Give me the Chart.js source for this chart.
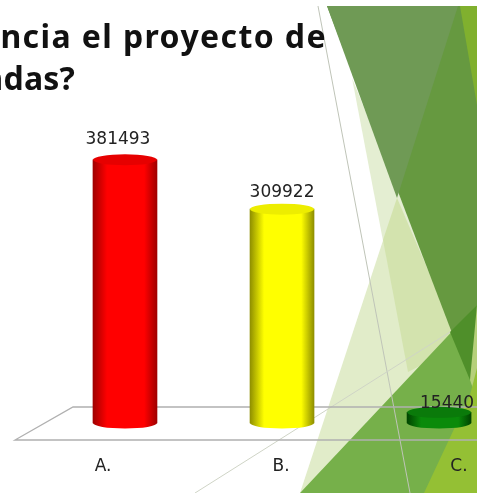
<!DOCTYPE html>
<html>
<head>
<meta charset="utf-8">
<style>
  html, body { margin: 0; padding: 0; background: #fff; overflow: hidden; }
  #wrap { position: relative; width: 477px; height: 493px; overflow: hidden; }
  #bg, #myChart { position: absolute; left: 0; top: 0; }
</style>
<script src="https://cdn.jsdelivr.net/npm/chart.js@4"></script>
</head>
<body>
<div id="wrap">
  <!-- slide background -->
  <svg id="bg" width="477" height="493">
    <polygon points="352,78 460,345 408,372" fill="#e4eed2"/>
    <polygon points="397,198 460,345 300,493" fill="#e1ecc9"/>
    <polygon points="397,198 460,345 408,372 383,240" fill="#d3e3ae"/>
    <polygon points="327,6 477,6 477,385 470,380" fill="#669940"/>
    <polygon points="327,6 458,6 397,198" fill="#6f9a55"/>
    <polygon points="460,6 477,6 477,105" fill="#80b02e"/>
    <polygon points="477,305 477,493 300,493" fill="#76b04a"/>
    <polygon points="450,332 477,305 477,370 470,380" fill="#4f8f2a"/>
    <polygon points="470,380 477,305 477,400" fill="#b5d07a"/>
    <polygon points="424,493 470,395 477,368 477,493" fill="#94c034"/>
    <line x1="318" y1="6" x2="410" y2="493" stroke="#bfc4b8" stroke-width="1"/>
    <line x1="450" y1="332" x2="195" y2="493" stroke="#cfd4c6" stroke-width="1"/>
  </svg>
  <canvas id="myChart" width="477" height="493"></canvas>
</div>
<script>
const categories = ['A.', 'B.', 'C.'];
const values = [381493, 309922, 15440];
const titleLines = ['ncia el proyecto de', 'adas?'];

// colores del cilindro: borde, centro, tapa
const barEdge = ['#a00000', '#8f8f00', '#004400'];
const barMid = ['#ff0000', '#ffff00', '#0a8a0a'];
const barCap = ['#e60000', '#eded00', '#0a7a0a'];
const barWidth = 64;
const capHeight = 5.5;
// desplazamiento por la perspectiva del original
const labelShift = [-7, 0, 8];
const labelRise = [20, 17, 9];

function barGradient(c, center, i) {
    const g = c.createLinearGradient(center - barWidth / 2, 0, center + barWidth / 2, 0);
    g.addColorStop(0, barEdge[i]);
    g.addColorStop(0.22, barMid[i]);
    g.addColorStop(0.8, barMid[i]);
    g.addColorStop(1, barEdge[i]);
    return g;
}

const slidePlugin = {
    id: 'slide',
    beforeDatasetsDraw(chart) {
        const c = chart.ctx;
        const bottom = chart.scales.y.getPixelForValue(0);
        // piso del grafico
        c.save();
        c.strokeStyle = '#b0b0b0';
        c.lineWidth = 1.3;
        c.beginPath();
        c.moveTo(477, bottom - 16);
        c.lineTo(73, bottom - 16);
        c.lineTo(15, bottom + 17);
        c.lineTo(477, bottom + 17);
        c.stroke();
        // base de cada cilindro
        chart.getDatasetMeta(0).data.forEach((bar, i) => {
            c.fillStyle = barGradient(c, bar.x, i);
            c.beginPath();
            c.ellipse(bar.x, bottom, barWidth / 2, capHeight, 0, 0, Math.PI * 2);
            c.fill();
        });
        c.restore();
    },
    afterDatasetsDraw(chart) {
        const c = chart.ctx;
        c.save();
        chart.getDatasetMeta(0).data.forEach((bar, i) => {
            c.fillStyle = barCap[i];
            c.beginPath();
            c.ellipse(bar.x, bar.y, barWidth / 2, capHeight, 0, 0, Math.PI * 2);
            c.fill();
        });
        c.fillStyle = '#222';
        c.font = '17px "DejaVu Sans"';
        c.textAlign = 'center';
        c.textBaseline = 'middle';
        chart.getDatasetMeta(0).data.forEach((bar, i) => {
            c.fillText(String(values[i]), bar.x + labelShift[i], bar.y - labelRise[i]);
        });
        // titulo cortado por el borde izquierdo
        c.fillStyle = '#111';
        c.font = 'bold 32px "Noto Sans"';
        c.textAlign = 'right';
        c.textBaseline = 'alphabetic';
        c.letterSpacing = '1.4px';
        c.fillText(titleLines[0], 327, 48);
        c.letterSpacing = '0.2px';
        c.fillText(titleLines[1], 75, 90);
        c.restore();
    }
};

const ctx = document.getElementById('myChart').getContext('2d');
const myChart = new Chart(ctx, {
    type: 'bar',
    data: {
        datasets: [{
            data: values.map((v, i) => ({ x: i, y: v })),
            xAxisID: 'xBars',
            barThickness: barWidth,
            clip: false,
            backgroundColor: (context) => {
                const i = context.dataIndex;
                const center = context.chart.scales.xBars.getPixelForValue(i);
                if (i === undefined || !Number.isFinite(center)) return barMid[0];
                return barGradient(context.chart.ctx, center, i);
            },
            borderWidth: 0
        }]
    },
    options: {
        responsive: false,
        animation: false,
        layout: { autoPadding: false, padding: { left: 103, right: 18, top: 147, bottom: 0 } },
        plugins: {
            legend: { display: false },
            title: { display: false },
            tooltip: { enabled: false }
        },
        scales: {
            x: {
                type: 'category',
                labels: categories,
                offset: false,
                grid: { color: 'transparent', drawOnChartArea: false, tickLength: 33 },
                border: { display: false },
                afterFit: (scale) => { scale.height = 70; },
                ticks: {
                    color: '#222',
                    font: { family: '"DejaVu Sans"', size: 17 },
                    padding: 0,
                    maxRotation: 0,
                    autoSkip: false
                }
            },
            xBars: {
                type: 'linear',
                display: false,
                offset: false,
                min: -0.14,
                max: 2.127
            },
            y: {
                display: false,
                beginAtZero: true,
                min: 0,
                max: 400000
            }
        }
    },
    plugins: [slidePlugin]
});
</script>
</body>
</html>
